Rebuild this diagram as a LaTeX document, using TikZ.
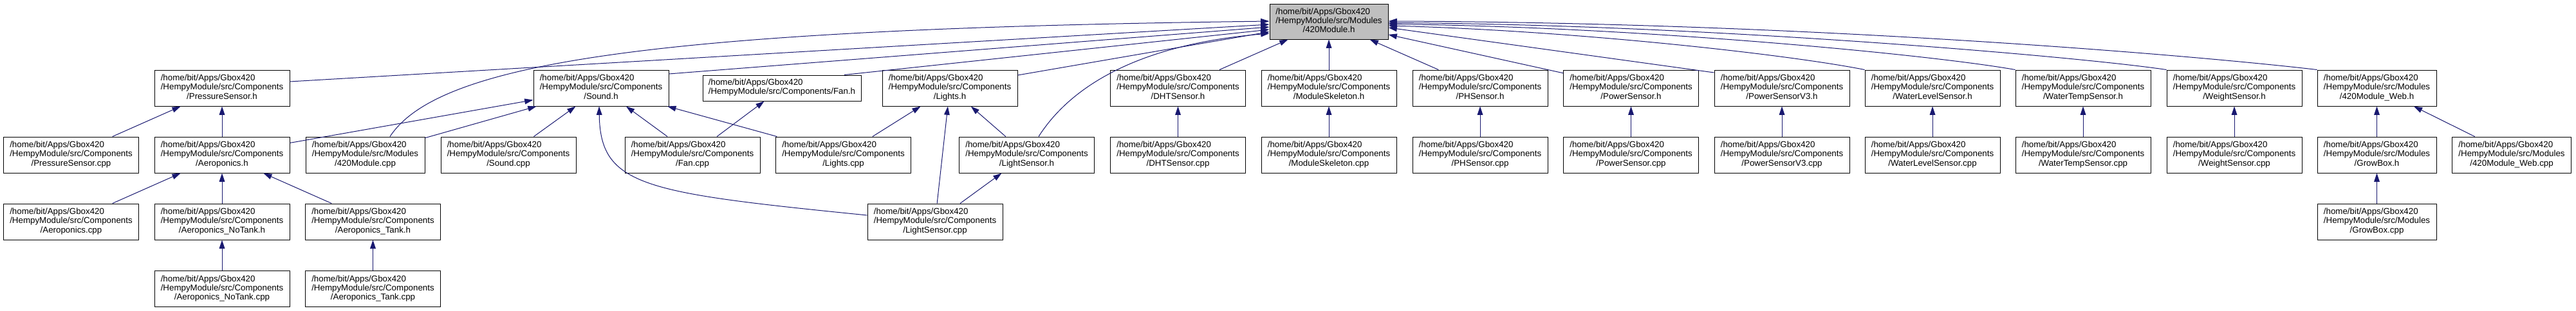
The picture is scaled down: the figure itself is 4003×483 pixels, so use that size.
\documentclass[tikz,border=0pt]{standalone}
\usepackage{fontspec}
\setmainfont{Liberation Sans}
\usetikzlibrary{arrows.meta,calc}
\definecolor{edgeblue}{HTML}{191970}
\definecolor{rootgray}{HTML}{BFBFBF}
\newcommand{\dlbl}[3]{\begin{tabular}{@{}l@{}}#1\\#2\\\multicolumn{1}{@{}c@{}}{#3}\end{tabular}}
\newcommand{\comp}[1]{\dlbl{/home/bit/Apps/Gbox420}{/HempyModule/src/Components}{#1}}
\newcommand{\modl}[1]{\dlbl{/home/bit/Apps/Gbox420}{/HempyModule/src/Modules}{#1}}
\begin{document}
\begin{tikzpicture}[x=0.75pt,y=-0.75pt,
  filebox/.style={draw=black, line width=0.75pt, fill=white, inner sep=0pt,
    minimum width=157.5pt, minimum height=42pt,
    font=\fontsize{10}{10.65}\selectfont},
  modbox/.style={filebox, minimum width=138.75pt},
  dep/.style={draw=edgeblue, line width=0.75pt, {Triangle[length=10pt,width=6.5pt]}-}]
\useasboundingbox (0,0) rectangle (4003,483);
% root
\node[modbox, fill=rootgray, minimum width=138pt, minimum height=41.25pt] (root) at (2065,33.5) {\modl{/420Module.h}};
% row 1
\node[filebox] (psh) at (345,137) {\comp{/PressureSensor.h}};
\node[filebox] (soundh) at (934,137) {\comp{/Sound.h}};
\node[filebox, minimum width=184.5pt, minimum height=30pt] (fanh) at (1215,137) {\begin{tabular}{@{}l@{}}/home/bit/Apps/Gbox420\\/HempyModule/src/Components/Fan.h\end{tabular}};
\node[filebox] (lightsh) at (1476,137) {\comp{/Lights.h}};
\node[filebox] (dhth) at (1830.5,137) {\comp{/DHTSensor.h}};
\node[filebox] (modskelh) at (2065,137) {\comp{/ModuleSkeleton.h}};
\node[filebox] (phh) at (2300,137) {\comp{/PHSensor.h}};
\node[filebox] (powh) at (2534.5,137) {\comp{/PowerSensor.h}};
\node[filebox] (powv3h) at (2769,137) {\comp{/PowerSensorV3.h}};
\node[filebox] (wlh) at (3003,137) {\comp{/WaterLevelSensor.h}};
\node[filebox] (wth) at (3237,137) {\comp{/WaterTempSensor.h}};
\node[filebox] (wgh) at (3472,137) {\comp{/WeightSensor.h}};
\node[modbox] (webh) at (3693.5,137) {\modl{/420Module\_Web.h}};
% row 2
\node[filebox] (pscpp) at (110.5,241) {\comp{/PressureSensor.cpp}};
\node[filebox] (aeroh) at (345,241) {\comp{/Aeroponics.h}};
\node[modbox] (modcpp) at (567.5,241) {\modl{/420Module.cpp}};
\node[filebox] (soundcpp) at (790,241) {\comp{/Sound.cpp}};
\node[filebox] (fancpp) at (1076,241) {\comp{/Fan.cpp}};
\node[filebox] (lightscpp) at (1310.5,241) {\comp{/Lights.cpp}};
\node[filebox] (lsh) at (1595.5,241) {\comp{/LightSensor.h}};
\node[filebox] (dhtcpp) at (1830.5,241) {\comp{/DHTSensor.cpp}};
\node[filebox] (modskelcpp) at (2065,241) {\comp{/ModuleSkeleton.cpp}};
\node[filebox] (phcpp) at (2300,241) {\comp{/PHSensor.cpp}};
\node[filebox] (powcpp) at (2534.5,241) {\comp{/PowerSensor.cpp}};
\node[filebox] (powv3cpp) at (2769,241) {\comp{/PowerSensorV3.cpp}};
\node[filebox] (wlcpp) at (3003,241) {\comp{/WaterLevelSensor.cpp}};
\node[filebox] (wtcpp) at (3237,241) {\comp{/WaterTempSensor.cpp}};
\node[filebox] (wgcpp) at (3472,241) {\comp{/WeightSensor.cpp}};
\node[modbox] (growh) at (3693.5,241) {\modl{/GrowBox.h}};
\node[modbox] (webcpp) at (3903,241) {\modl{/420Module\_Web.cpp}};
% row 3
\node[filebox] (aerocpp) at (110.5,345) {\comp{/Aeroponics.cpp}};
\node[filebox] (nth) at (345,345) {\comp{/Aeroponics\_NoTank.h}};
\node[filebox] (th) at (579.5,345) {\comp{/Aeroponics\_Tank.h}};
\node[filebox] (lscpp) at (1453,345) {\comp{/LightSensor.cpp}};
\node[modbox] (growcpp) at (3693.5,345) {\modl{/GrowBox.cpp}};
% row 4
\node[filebox] (ntcpp) at (345,449.5) {\comp{/Aeroponics\_NoTank.cpp}};
\node[filebox] (tcpp) at (579.5,449.5) {\comp{/Aeroponics\_Tank.cpp}};
% edges (arrow at the included file)
\draw[dep] (psh) -- (pscpp);
\draw[dep] (psh) -- (aeroh);
\draw[dep] (aeroh) -- (aerocpp);
\draw[dep] (aeroh) -- (nth);
\draw[dep] (aeroh) -- (th);
\draw[dep] (nth) -- (ntcpp);
\draw[dep] (th) -- (tcpp);
\draw[dep] (soundh) -- (aeroh);
\draw[dep] (soundh) -- (modcpp);
\draw[dep] (soundh) -- (soundcpp);
\draw[dep] (soundh) -- (fancpp);
\draw[dep] (soundh) -- (lightscpp);
\draw[dep] ($(soundh.south)+(-3,0)$) .. controls (933,290) and (1000,300) .. ($(lscpp.west)+(0,-10)$);
\draw[dep] (fanh) -- (fancpp);
\draw[dep] (lightsh) -- (lightscpp);
\draw[dep] (lightsh) -- (lscpp);
\draw[dep] (lightsh) -- (lsh);
\draw[dep] (lsh) -- (lscpp);
\draw[dep] (dhth) -- (dhtcpp);
\draw[dep] (modskelh) -- (modskelcpp);
\draw[dep] (phh) -- (phcpp);
\draw[dep] (powh) -- (powcpp);
\draw[dep] (powv3h) -- (powv3cpp);
\draw[dep] (wlh) -- (wlcpp);
\draw[dep] (wth) -- (wtcpp);
\draw[dep] (wgh) -- (wgcpp);
\draw[dep] (webh) -- (growh);
\draw[dep] (webh) -- (webcpp);
\draw[dep] (growh) -- (growcpp);
% edges into root
\draw[dep] ($(root.west)+(0,-0.5)$) .. controls (1000,45) and (680,100) .. ($(modcpp.north)+(38.5,0)$);
\draw[dep] ($(root.west)+(0,4.5)$) -- ($(psh.east)+(0,-10)$);
\draw[dep] ($(root.west)+(0,8.5)$) -- ($(soundh.east)+(0,-22)$);
\draw[dep] ($(root.west)+(0,12.5)$) -- ($(fanh.north)+(97,0)$);
\draw[dep] ($(root.west)+(0,16)$) -- ($(lightsh.east)+(0,-20)$);
\draw[dep] ($(root.west)+(0,18.5)$) .. controls (1760,70) and (1660,140) .. ($(lsh.north)+(18.5,0)$);
\draw[dep] (root) -- (dhth);
\draw[dep] (root) -- (modskelh);
\draw[dep] (root) -- (phh);
\draw[dep] (root) -- (powh);
\draw[dep] ($(root.east)+(0,9.5)$) -- ($(powv3h.west)+(0,-24)$);
\draw[dep] ($(root.east)+(0,6.5)$) .. controls (2450,48) and (2780,85) .. (wlh.north west);
\draw[dep] ($(root.east)+(0,4)$) .. controls (2550,42) and (3000,85) .. (wth.north west);
\draw[dep] ($(root.east)+(0,2)$) .. controls (2650,38) and (3230,88) .. (wgh.north west);
\draw[dep] ($(root.east)+(0,-0.5)$) .. controls (2800,35) and (3400,85) .. (webh.north west);
\end{tikzpicture}
\end{document}
